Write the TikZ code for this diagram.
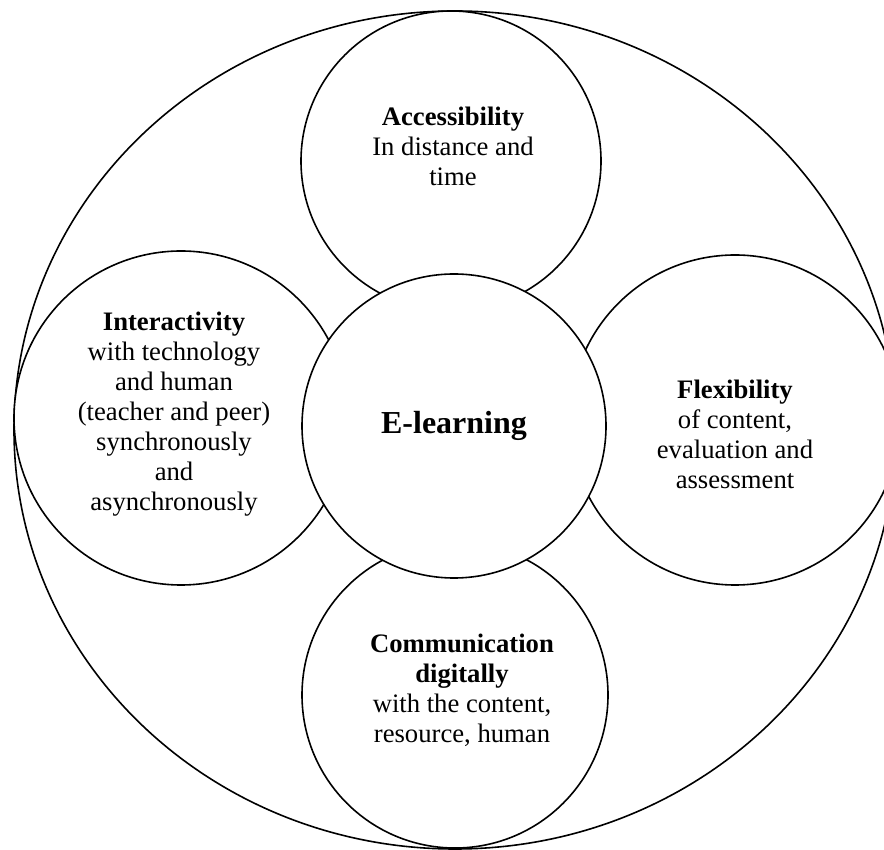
\documentclass[tikz,border=0pt]{standalone}
\usepackage{fontspec}
\setmainfont{Liberation Serif}
\usepackage{tikz}
\usetikzlibrary{shapes.geometric}

\begin{document}
\begin{tikzpicture}[x=0.75pt, y=0.75pt,
  bubble/.style={circle, draw, line width=1.2pt, fill=white, inner sep=0pt},
  blurb/.style={align=center, inner sep=0pt, font=\fontsize{20}{22.5}\selectfont}]
\useasboundingbox (0,0) rectangle (884,849);
\clip (0,0) rectangle (884,849);
% outer ring
\node[ellipse, draw, line width=1.2pt, fill=white, minimum width=661.5pt, minimum height=628.5pt] (ring) at (455,419) {};
% the four qualities
\node[bubble, minimum size=225pt] (acc) at (451,688) {};
\node[bubble, minimum size=250.5pt] (inter) at (181,431) {};
\node[bubble, minimum size=247.5pt] (flex) at (735,429) {};
\node[bubble, minimum size=229.5pt] (comm) at (455,154) {};
\node[bubble, minimum size=228pt, font=\fontsize{24}{28}\selectfont\bfseries] (elearn) at (454,423) {E-learning};
\node[blurb] (acctext) at (453,703) {\textbf{Accessibility}\\In distance and\\time};
\node[blurb] (intertext) at (174,435) {\textbf{Interactivity}\\with technology\\and human\\(teacher and peer)\\synchronously\\and\\asynchronously};
\node[blurb] (flextext) at (735,415) {\textbf{Flexibility}\\of content,\\evaluation and\\assessment};
\node[blurb] (commtext) at (462,159) {\textbf{Communication}\\\textbf{digitally}\\ with the content,\\resource, human};
\end{tikzpicture}
\end{document}
